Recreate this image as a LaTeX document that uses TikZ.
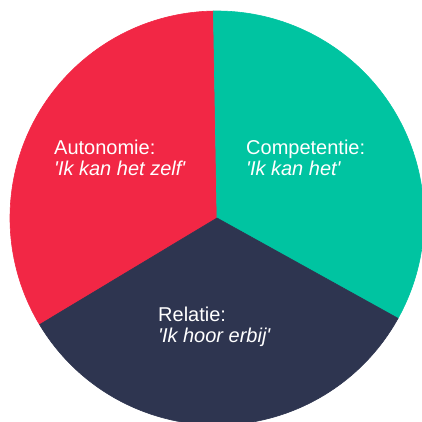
\documentclass[tikz,border=0pt]{standalone}
\usepackage{fontspec}
\setmainfont{Liberation Sans}
\definecolor{redseg}{HTML}{F22745}
\definecolor{tealseg}{HTML}{00C4A1}
\definecolor{navyseg}{HTML}{2E3550}
\newcommand{\quoted}[1]{\textit{\textquotesingle#1\textquotesingle}}
\tikzset{lbl/.style={text=white,align=left,anchor=base west,inner sep=0pt,font=\fontsize{20}{20.5}\selectfont},
  seg/.style={line width=0.6pt,line join=round}}

\begin{document}
\begin{tikzpicture}[x=1pt,y=1pt]
% 画布大小与圆心 O
\useasboundingbox (-217,-203) rectangle (205,218);
\coordinate (O) at (0,0);
% 三个扇形
\filldraw[seg,redseg] (O) -- (91:207) arc[start angle=91,end angle=211,radius=207] -- cycle;
\filldraw[seg,tealseg] (O) -- (-29:207) arc[start angle=-29,end angle=91,radius=207] -- cycle;
\filldraw[seg,navyseg] (O) -- (211:207) arc[start angle=211,end angle=331,radius=207] -- cycle;
% 标签 (base 为最后一行的基线)
\node[lbl] (autonomie) at (-163,43) {Autonomie:\\\quoted{Ik kan het zelf}};
\node[lbl] (competentie) at (29,43) {Competentie:\\\quoted{Ik kan het}};
\node[lbl] (relatie) at (-59,-124) {Relatie:\\\quoted{Ik hoor erbij}};
\end{tikzpicture}
\end{document}
